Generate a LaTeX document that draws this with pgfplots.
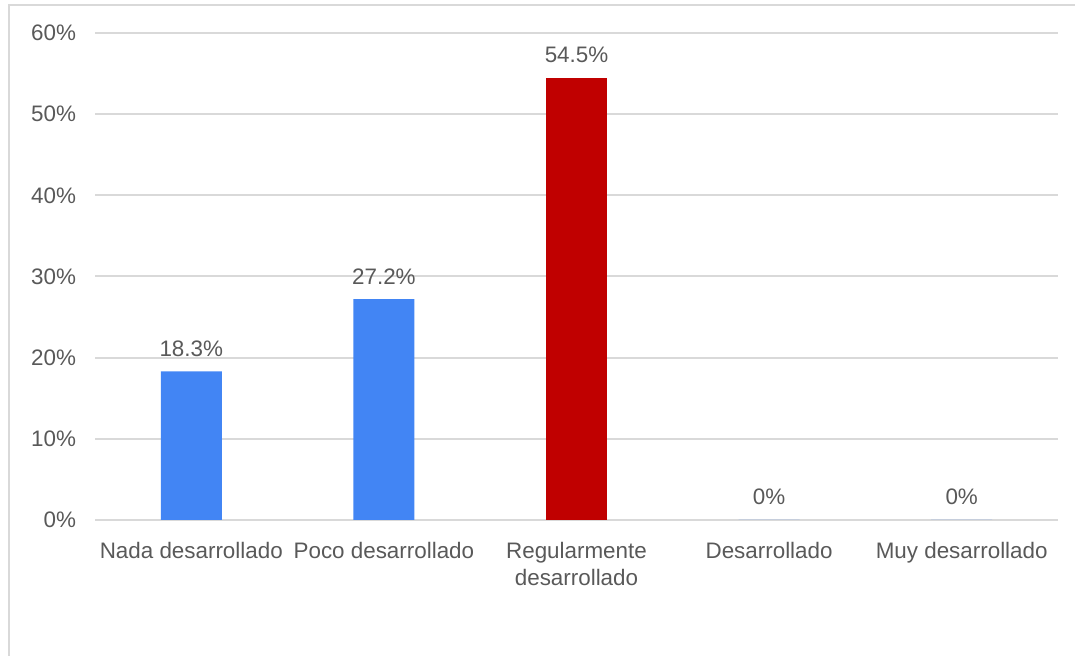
\documentclass[border=0pt]{standalone}
\usepackage{pgfplots}
\pgfplotsset{compat=1.18}
\usepackage{fontspec}
\setmainfont{Liberation Sans}
\definecolor{txt}{HTML}{595959}
\definecolor{gridc}{HTML}{D9D9D9}
\definecolor{barblue}{HTML}{4285F4}
\definecolor{barred}{HTML}{C00000}
\begin{document}
\begin{tikzpicture}[x=0.5pt,y=0.5pt]
\useasboundingbox (0,0) rectangle (1075,656);
\draw[gridc, line width=1pt] (8.5,0) -- (8.5,650.5) -- (1075,650.5);
\begin{axis}[
  at={(47.5pt,68pt)}, anchor=south west,
  width=481.5pt, height=243.5pt, scale only axis,
  xmin=-0.5, xmax=4.5, ymin=0, ymax=60,
  ytick={0,10,...,60},
  yticklabel={\pgfmathprintnumber{\tick}\%},
  /pgf/number format/assume math mode=true,
  ymajorgrids, major grid style={gridc, line width=1pt},
  axis line style={draw=none},
  major tick length=0pt,
  xtick={0,...,4},
  xticklabels={Nada desarrollado, Poco desarrollado, {Regularmente\\desarrollado}, Desarrollado, Muy desarrollado},
  x tick label style={align=center, text=txt, font=\fontsize{11.2}{13.5}\selectfont, yshift=-7.5pt},
  y tick label style={text=txt, font=\fontsize{11.2}{13}\selectfont, xshift=-6pt},
  ybar, bar width=30.5pt,
  nodes near coords={\pgfmathprintnumber[fixed,precision=1,assume math mode=true]{\pgfplotspointmeta}\%},
  every node near coord/.append style={text=txt, font=\fontsize{11.2}{13}\selectfont, yshift=4pt},
  clip=false,
]
\addplot[fill=barblue, draw=none, bar shift=0pt] coordinates {(0,18.3) (1,27.2) (3,0) (4,0)};
\addplot[fill=barred, draw=none, bar shift=0pt] coordinates {(2,54.5)};
\end{axis}
\end{tikzpicture}
\end{document}
